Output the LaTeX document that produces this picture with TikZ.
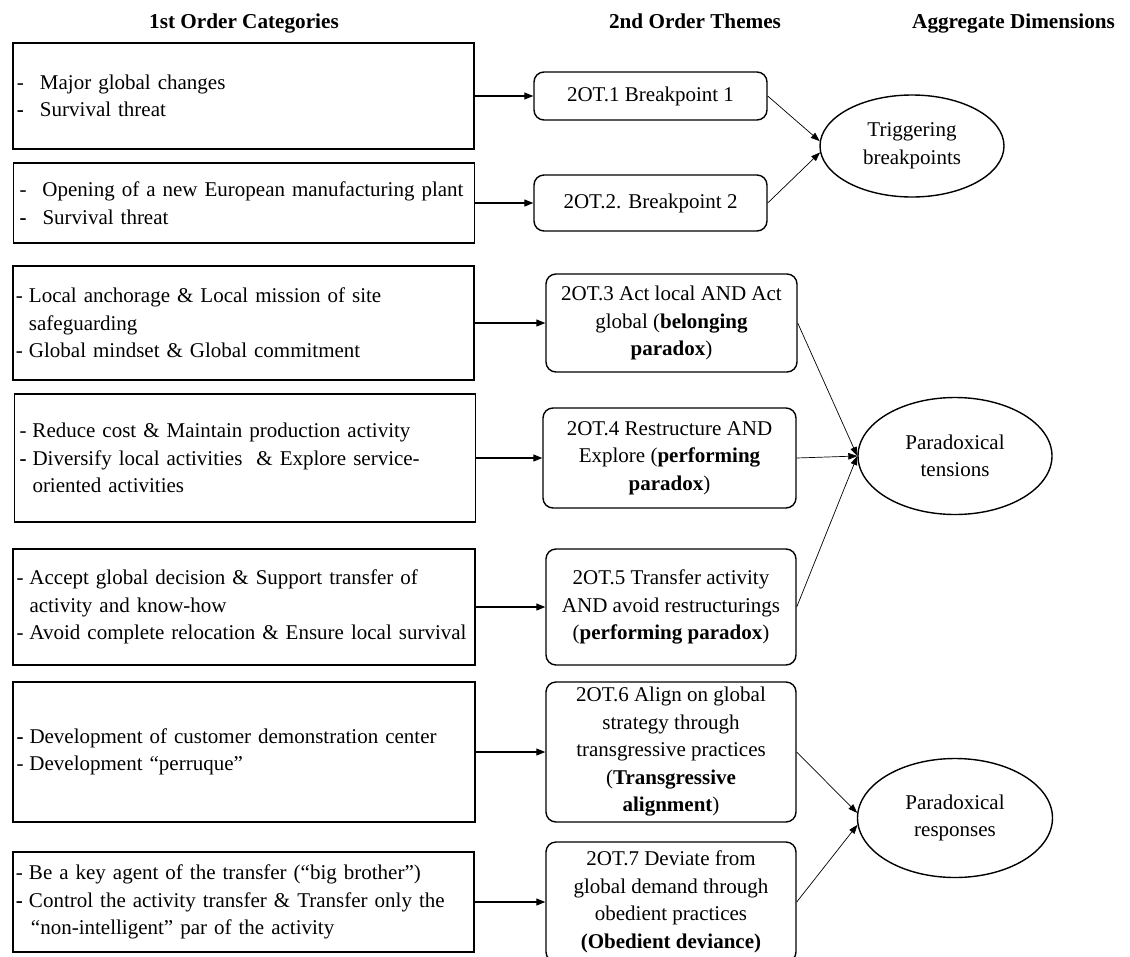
\documentclass[tikz,border=0pt]{standalone}
\usepackage{fontspec}
\setmainfont{Liberation Serif}
\usetikzlibrary{arrows.meta, shapes.geometric}

\newcommand{\dsh}{\makebox[13pt][l]{-}}
\newcommand{\bdsh}{\makebox[13pt][l]{\textbf{-}}}
\newcommand{\tabdsh}{\makebox[23pt][l]{-}}
\newcommand{\tabbdsh}{\makebox[23pt][l]{\textbf{-}}}

\begin{document}
\begin{tikzpicture}[x=1pt, y=-1pt, font=\fontsize{21}{27.5}\selectfont]
\useasboundingbox (0,0) rectangle (1130,956);

% % column titles
\begin{scope}[every node/.style={anchor=base, inner sep=0pt, font=\fontsize{21.2}{27.5}\selectfont\bfseries}]
    \node (h1) at (244, 28) {1st Order Categories};
    \node (h2) at (695, 28) {2nd Order Themes};
    \node (h3) at (912, 28) [anchor=base west] {Aggregate Dimensions};
\end{scope}

% % 1st order categories
\begin{scope}[every node/.style={rectangle, draw=black, line width=1.4pt, minimum width=461pt,
    text width=455pt, inner xsep=3pt, inner ysep=0pt, align=left}]
    \node (c1) at (243.5, 96) [minimum height=106pt] {\hspace*{1pt}\tabdsh Major global changes\\ \hspace*{1pt}\tabbdsh Survival threat};
    \node (c2) at (244, 203) [minimum height=80pt, minimum width=458pt] {\hspace*{3pt}\tabdsh Opening of a new European manufacturing plant\\ \hspace*{3pt}\tabbdsh Survival threat};
    \node (c3) at (243.5, 323) [minimum height=114pt] {\dsh Local anchorage \& Local mission of site\\ \hspace*{13pt}safeguarding\\ \dsh Global mindset \& Global commitment};
    \node (c4) at (245, 458) [minimum height=128pt, minimum width=460pt] {\hspace*{2pt}\dsh Reduce cost \& Maintain production activity\\ \hspace*{2pt}\bdsh Diversify local activities \ \& Explore service-\\ \hspace*{15pt}oriented activities};
    \node (c5) at (244, 607) [minimum height=116pt, minimum width=462pt] {\dsh Accept global decision \& Support transfer of\\ \hspace*{13pt}activity and know-how\\ \dsh Avoid complete relocation \& Ensure local survival};
    \node (c6) at (244, 752) [minimum height=140pt, minimum width=462pt] {\bdsh Development of customer demonstration center\\ \dsh Development “perruque”};
    \node (c7) at (243.5, 902) [minimum height=100pt] {\dsh Be a key agent of the transfer (“big brother”)\\ \bdsh Control the activity transfer \& Transfer only the\\ \hspace*{15pt}“non-intelligent” par of the activity};
\end{scope}

% % 2nd order themes
\begin{scope}[every node/.style={rectangle, rounded corners=10pt, draw=black, line width=1.4pt,
    inner sep=0pt, align=center}]
    \node (t1) at (650.5, 96) [minimum width=233pt, minimum height=48pt] {2OT.1 Breakpoint 1};
    \node (t2) at (650.5, 203) [minimum width=233pt, minimum height=56pt] {2OT.2. Breakpoint 2};
    \node (t3) at (671.5, 323) [minimum width=251pt, minimum height=98pt] {2OT.3 Act local AND Act\\ global (\textbf{belonging}\\ \textbf{paradox})};
    \node (t4) at (669.5, 458) [minimum width=253pt, minimum height=100pt] {2OT.4 Restructure AND\\ Explore (\textbf{performing}\\ \textbf{paradox})};
    \node (t5) at (671, 607) [minimum width=250pt, minimum height=116pt] {2OT.5 Transfer activity\\ AND avoid restructurings\\ (\textbf{performing paradox})};
    \node (t6) at (671, 752) [minimum width=250pt, minimum height=140pt] {2OT.6 Align on global\\ strategy through\\ transgressive practices\\ (\textbf{Transgressive}\\ \textbf{alignment})};
    \node (t7) at (671, 902) [minimum width=250pt, minimum height=120pt] {2OT.7 Deviate from\\ global demand through\\ obedient practices\\ \textbf{(Obedient deviance)}};
\end{scope}

% % aggregate dimensions
\begin{scope}[every node/.style={ellipse, draw=black, line width=1.4pt, inner sep=0pt, align=center}]
    \node (d1) at (912, 146) [minimum width=184pt, minimum height=102pt] {Triggering\\ breakpoints};
    \node (d2) at (955, 456) [minimum width=194pt, minimum height=117pt] {Paradoxical\\ tensions};
    \node (d3) at (955, 818) [minimum width=195pt, minimum height=119pt] {Paradoxical\\ responses};
\end{scope}

\begin{scope}[>={Triangle[length=9pt,width=7pt]},
              every edge/.style={draw=black, line width=1.1pt}]
    \path [->] (c1) edge (t1);
    \path [->] (c2) edge (t2);
    \path [->] (c3) edge (t3);
    \path [->] (c4) edge (t4);
    \path [->] (c5) edge (t5);
    \path [->] (c6) edge (t6);
    \path [->] (c7) edge (t7);
\end{scope}

\begin{scope}[>={Triangle[length=9pt,width=6.5pt]},
              every edge/.style={draw=black, line width=0.7pt}]
    \path [->] (t1.east) edge (d1.177);
    \path [->] (t2.east) edge (d1.184);

    \path [->] (t3.east) edge (d2.west);
    \path [->] (t4.east) edge (d2.west);
    \path [->] (t5.east) edge (d2.west);

    \path [->] (t6.east) edge (d3.177);
    \path [->] (t7.east) edge (d3.184);
\end{scope}
\end{tikzpicture}
\end{document}
